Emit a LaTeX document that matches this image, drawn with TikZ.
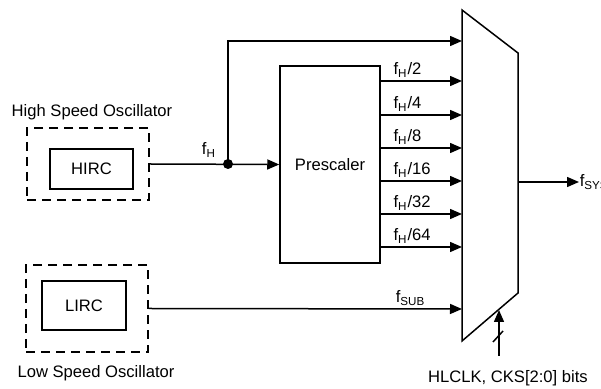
\documentclass[tikz,border=0pt]{standalone}
\usepackage{fontspec}
\setmainfont{Liberation Sans}
\usetikzlibrary{arrows.meta,positioning,fit}

\begin{document}
\begin{tikzpicture}[
  x=0.5pt, y=-0.5pt,
  font=\fontsize{8.3}{10}\selectfont,
  line width=0.75pt,
  blk/.style={draw, line width=0.75pt, inner sep=0pt, align=center},
  oscbox/.style={draw, dash pattern=on 4.5pt off 3pt, inner sep=0pt},
  arr/.style={-{Triangle[length=6pt,width=5pt]}},
  flbl/.style={pos=0, anchor=base west, inner sep=0pt, xshift=6pt, yshift=3pt}
]
\useasboundingbox (0,0) rectangle (601,389);

% oscillators
\node[oscbox, minimum width=61pt, minimum height=36pt] (hosc) at (88,164) {};
\node[blk, minimum width=41.5pt, minimum height=20pt] (hirc) at (91.5,169) {HIRC};
\node (hlbl) at (92,112) {High Speed Oscillator};

\node[oscbox, minimum width=61pt, minimum height=43.5pt] (losc) at (87,308.5) {};
\node[blk, minimum width=42pt, minimum height=24.5pt] (lirc) at (84,305.5) {LIRC};
\node (llbl) at (96,373) {Low Speed Oscillator};

% prescaler
\node[blk, minimum width=50pt, minimum height=98.5pt] (presc) at (330,164.5) {Prescaler};

% mux
\coordinate (mtl) at (462,10);
\coordinate (mtr) at (518,53);
\coordinate (mbr) at (518,293);
\coordinate (mbl) at (462,341);
\draw (mtl) -- (mtr) -- (mbr) -- (mbl) -- cycle;

% f_H path
\coordinate (fhj) at (228,164);
\coordinate (in0) at (462,41);
\draw[arr] (hosc.east) -- (presc.west);
\fill (fhj) circle (2.5pt);
\node[inner sep=0pt] (fh) at (209,150) {f\textsubscript{H}};
\draw[arr] (fhj) |- (in0);

% divided clocks
\foreach \y/\d [count=\i] in {81/2,115/4,148/8,181/16,214/32,247/64} {
  \coordinate (in\i) at (462,\y);
  \draw[arr] (presc.east |- in\i) -- (in\i)
    node[flbl] {f\textsubscript{H}/\d};
}

% f_SUB
\coordinate (in7) at (462,309);
\draw[arr] (losc.east) -- (in7);
\node[anchor=base west, inner sep=0pt] (fsub) at (395,303) {f\textsubscript{SUB}};

% output
\coordinate (mo) at (518,182);
\node[anchor=west, inner sep=0pt] (fsys) at (579,182) {f\textsubscript{SYS}};
\draw[arr] (mo) -- (fsys.west);

% select
\coordinate (sel) at (499,310);
\coordinate (selb) at (499,356);
\draw[arr] (selb) -- (sel);
\draw (493,342) -- (503,331);
\node (ctl) at (508,378) {HLCLK, CKS[2:0] bits};
\end{tikzpicture}
\end{document}
